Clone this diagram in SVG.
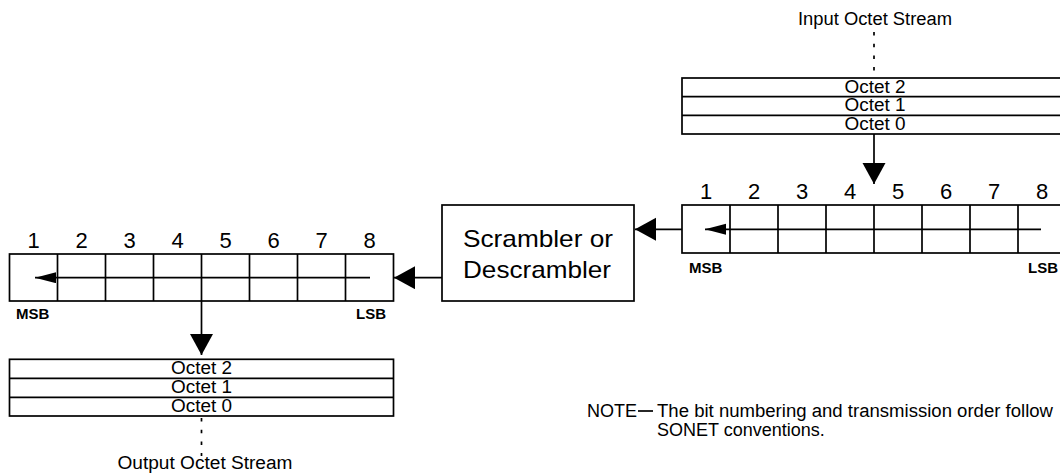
<svg xmlns="http://www.w3.org/2000/svg" width="1060" height="474" viewBox="0 0 1060 474">
<style>
text{font-family:"Liberation Sans",Arial,Helvetica,sans-serif;fill:#000}
.box{fill:#fff;stroke:#000;stroke-width:1.7}
.ln{stroke:#000;stroke-width:1.7;fill:none}
.dot{stroke:#000;stroke-width:1.7;fill:none;stroke-dasharray:3.5 8.2}
.num{font-size:22px;text-anchor:middle}
.oct{font-size:18px;text-anchor:middle}
.bit{font-size:15px;font-weight:bold}
.lbl{font-size:18px;text-anchor:middle}
.big{font-size:24px;text-anchor:middle}
.note{font-size:18px}
</style>
<defs>
<marker id="bigHead" markerUnits="userSpaceOnUse" markerWidth="22" markerHeight="24" refX="21" refY="11.5" orient="auto">
<path d="M0,0 L21,11.5 L0,23 Z" fill="#000"/>
</marker>
<marker id="smallHead" markerUnits="userSpaceOnUse" markerWidth="22" markerHeight="12" refX="21" refY="5.5" orient="auto">
<path d="M0,0 L21,5.5 L0,11 Z" fill="#000"/>
</marker>
</defs>

<g id="input-label">
<text class="lbl" x="875" y="25" textLength="154" lengthAdjust="spacingAndGlyphs">Input Octet Stream</text>
</g>

<g id="input-stack">
<rect class="box" x="682" y="78" width="390" height="56"/>
<line class="ln" x1="682" y1="96.7" x2="1072" y2="96.7"/>
<line class="ln" x1="682" y1="115.3" x2="1072" y2="115.3"/>
<text class="oct" x="875" y="92.5" textLength="61" lengthAdjust="spacingAndGlyphs">Octet 2</text>
<text class="oct" x="875" y="111.2" textLength="61" lengthAdjust="spacingAndGlyphs">Octet 1</text>
<text class="oct" x="875" y="129.8" textLength="61" lengthAdjust="spacingAndGlyphs">Octet 0</text>
</g>

<g id="right-register">
<rect class="box" x="682" y="205" width="384" height="48"/>
<line class="ln" x1="730" y1="205" x2="730" y2="253"/>
<line class="ln" x1="778" y1="205" x2="778" y2="253"/>
<line class="ln" x1="826" y1="205" x2="826" y2="253"/>
<line class="ln" x1="874" y1="205" x2="874" y2="253"/>
<line class="ln" x1="922" y1="205" x2="922" y2="253"/>
<line class="ln" x1="970" y1="205" x2="970" y2="253"/>
<line class="ln" x1="1018" y1="205" x2="1018" y2="253"/>
<text class="num" x="706" y="199">1</text>
<text class="num" x="754" y="199">2</text>
<text class="num" x="802" y="199">3</text>
<text class="num" x="850" y="199">4</text>
<text class="num" x="898" y="199">5</text>
<text class="num" x="946" y="199">6</text>
<text class="num" x="994" y="199">7</text>
<text class="num" x="1042" y="199">8</text>
<text class="bit" x="689" y="273">MSB</text>
<text class="bit" x="1058" y="273" text-anchor="end">LSB</text>
</g>

<g id="scrambler">
<rect class="box" x="442" y="205" width="192" height="96"/>
<text class="big" x="538" y="247" textLength="150" lengthAdjust="spacingAndGlyphs">Scrambler or</text>
<text class="big" x="537" y="278" textLength="148" lengthAdjust="spacingAndGlyphs">Descrambler</text>
</g>

<g id="left-register">
<rect class="box" x="9.5" y="254" width="384" height="47"/>
<line class="ln" x1="57.5" y1="254" x2="57.5" y2="301"/>
<line class="ln" x1="105.5" y1="254" x2="105.5" y2="301"/>
<line class="ln" x1="153.5" y1="254" x2="153.5" y2="301"/>
<line class="ln" x1="201.5" y1="254" x2="201.5" y2="301"/>
<line class="ln" x1="249.5" y1="254" x2="249.5" y2="301"/>
<line class="ln" x1="297.5" y1="254" x2="297.5" y2="301"/>
<line class="ln" x1="345.5" y1="254" x2="345.5" y2="301"/>
<text class="num" x="33.5" y="248">1</text>
<text class="num" x="81.5" y="248">2</text>
<text class="num" x="129.5" y="248">3</text>
<text class="num" x="177.5" y="248">4</text>
<text class="num" x="225.5" y="248">5</text>
<text class="num" x="273.5" y="248">6</text>
<text class="num" x="321.5" y="248">7</text>
<text class="num" x="369.5" y="248">8</text>
<text class="bit" x="16" y="319">MSB</text>
<text class="bit" x="386" y="319" text-anchor="end">LSB</text>
</g>

<g id="output-stack">
<rect class="box" x="9.5" y="359.3" width="384" height="56.7"/>
<line class="ln" x1="9.5" y1="378.3" x2="393.5" y2="378.3"/>
<line class="ln" x1="9.5" y1="397.3" x2="393.5" y2="397.3"/>
<text class="oct" x="201.5" y="374" textLength="61" lengthAdjust="spacingAndGlyphs">Octet 2</text>
<text class="oct" x="201.5" y="393" textLength="61" lengthAdjust="spacingAndGlyphs">Octet 1</text>
<text class="oct" x="201.5" y="412" textLength="61" lengthAdjust="spacingAndGlyphs">Octet 0</text>
</g>

<g id="output-label">
<text class="lbl" x="205" y="469" textLength="175" lengthAdjust="spacingAndGlyphs">Output Octet Stream</text>
</g>

<g id="note">
<text class="note" x="587" y="417">NOTE</text>
<line class="ln" x1="638" y1="411" x2="653" y2="411"/>
<text class="note" x="657" y="417" textLength="396" lengthAdjust="spacingAndGlyphs">The bit numbering and transmission order follow</text>
<text class="note" x="657" y="436">SONET conventions.</text>
</g>

<g id="connectors">
<line class="dot" x1="874" y1="32" x2="874" y2="72"/>
<line class="ln" x1="874" y1="134" x2="874" y2="184" marker-end="url(#bigHead)"/>
<line class="ln" x1="682" y1="229.3" x2="635" y2="229.3" marker-end="url(#bigHead)"/>
<line class="ln" x1="442" y1="277.7" x2="394" y2="277.7" marker-end="url(#bigHead)"/>
<line class="ln" x1="201.5" y1="301" x2="201.5" y2="355" marker-end="url(#bigHead)"/>
<line class="dot" x1="201.5" y1="418" x2="201.5" y2="456"/>
<line class="ln" x1="1041" y1="229.3" x2="705" y2="229.3" marker-end="url(#smallHead)"/>
<line class="ln" x1="370" y1="277.7" x2="35" y2="277.7" marker-end="url(#smallHead)"/>
</g>
</svg>
